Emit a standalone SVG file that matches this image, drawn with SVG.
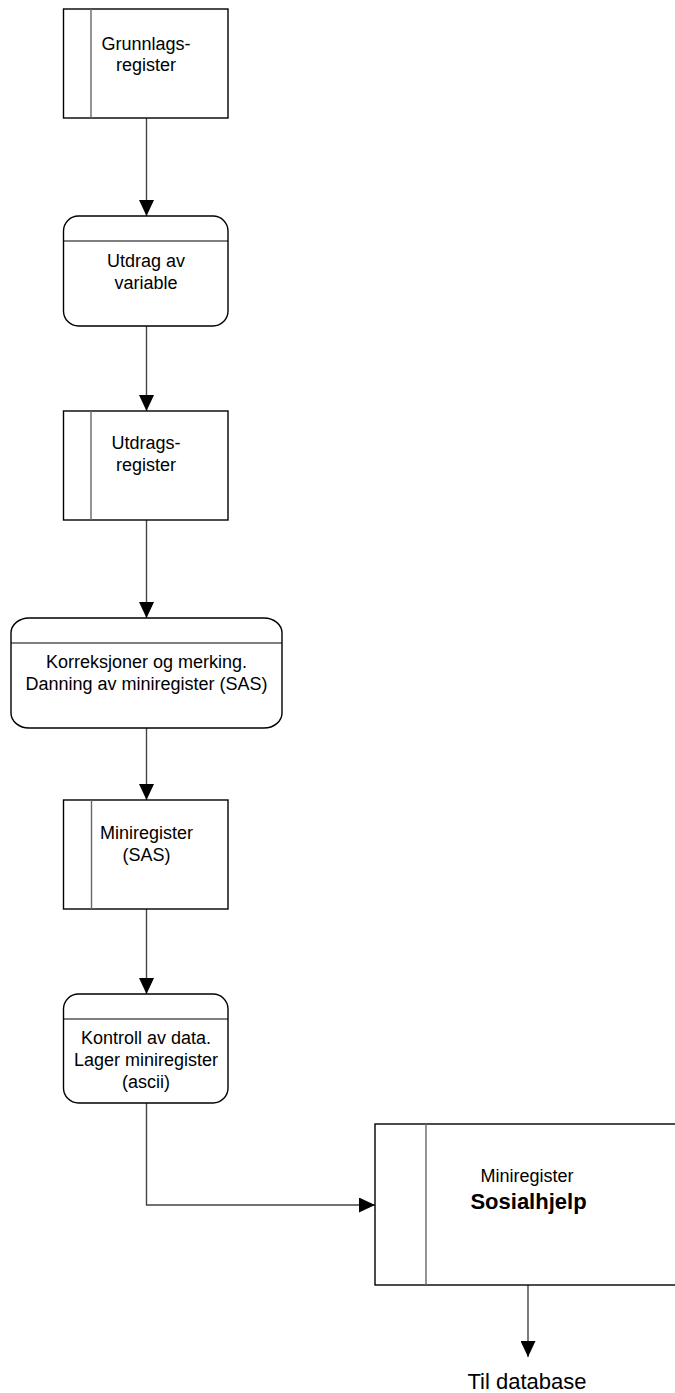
<svg xmlns="http://www.w3.org/2000/svg" width="675" height="1393" viewBox="0 0 675 1393">
<style>
.box{fill:#fff;stroke:#000;stroke-width:1.4}
.inner{stroke:#666;stroke-width:1.4;fill:none}
.div{stroke:#000;stroke-width:1.2;fill:none}
.conn{stroke:#444;stroke-width:1.4;fill:none}
.t{font-family:"Liberation Sans",Arial,sans-serif;font-size:18px;fill:#000;text-anchor:middle}
.big{font-size:22px}
.b{font-weight:bold}
</style>
<defs>
<marker id="arr" viewBox="0 0 16 15" refX="16" refY="7.5" markerWidth="16" markerHeight="15" markerUnits="userSpaceOnUse" orient="auto">
<path d="M0,0 L16,7.5 L0,15 Z" fill="#000"/>
</marker>
</defs>
<rect width="675" height="1393" fill="#fff"/>
<g id="connectors">
<line class="conn" x1="146.5" y1="118" x2="146.5" y2="216" marker-end="url(#arr)"/>
<line class="conn" x1="146.5" y1="326" x2="146.5" y2="411" marker-end="url(#arr)"/>
<line class="conn" x1="146.5" y1="520" x2="146.5" y2="618" marker-end="url(#arr)"/>
<line class="conn" x1="146.5" y1="728" x2="146.5" y2="800" marker-end="url(#arr)"/>
<line class="conn" x1="146.5" y1="909" x2="146.5" y2="994" marker-end="url(#arr)"/>
<polyline class="conn" points="146.5,1103 146.5,1205 375,1205" marker-end="url(#arr)"/>
<line class="conn" x1="528" y1="1285" x2="528" y2="1357" marker-end="url(#arr)"/>
</g>
<g id="grunnlagsregister">
<rect class="box" x="63.5" y="9" width="164.5" height="109"/>
<line class="inner" x1="91" y1="9" x2="91" y2="118"/>
<text class="t" x="146" y="50">Grunnlags-</text>
<text class="t" x="146" y="71">register</text>
</g>
<g id="utdrag-av-variable">
<rect class="box" x="63.5" y="216" width="164.5" height="110" rx="15" ry="15"/>
<line class="div" x1="63.5" y1="241" x2="228" y2="241"/>
<text class="t" x="146" y="267">Utdrag av</text>
<text class="t" x="146" y="289">variable</text>
</g>
<g id="utdragsregister">
<rect class="box" x="63.5" y="411" width="164.5" height="109"/>
<line class="inner" x1="91" y1="411" x2="91" y2="520"/>
<text class="t" x="146" y="449">Utdrags-</text>
<text class="t" x="146" y="471">register</text>
</g>
<g id="korreksjoner">
<rect class="box" x="11" y="618" width="271" height="110" rx="18" ry="15"/>
<line class="div" x1="11" y1="643" x2="282" y2="643"/>
<text class="t" x="146.5" y="668">Korreksjoner og merking.</text>
<text class="t" x="146.5" y="690">Danning av miniregister (SAS)</text>
</g>
<g id="miniregister-sas">
<rect class="box" x="63.5" y="800" width="164.5" height="109"/>
<line class="inner" x1="91.5" y1="800" x2="91.5" y2="909"/>
<text class="t" x="146.5" y="839">Miniregister</text>
<text class="t" x="146.5" y="861">(SAS)</text>
</g>
<g id="kontroll">
<rect class="box" x="63.5" y="994" width="164.5" height="109" rx="15" ry="15"/>
<line class="div" x1="63.5" y1="1019" x2="228" y2="1019"/>
<text class="t" x="146" y="1044">Kontroll av data.</text>
<text class="t" x="146" y="1066">Lager miniregister</text>
<text class="t" x="146" y="1088">(ascii)</text>
</g>
<g id="miniregister-sosialhjelp">
<rect class="box" x="375" y="1124" width="320" height="161"/>
<line class="inner" x1="426" y1="1124" x2="426" y2="1285"/>
<text class="t" x="527" y="1182">Miniregister</text>
<text class="t big b" x="528.5" y="1209">Sosialhjelp</text>
</g>
<g id="til-database">
<text class="t big" x="527" y="1389">Til database</text>
</g>
</svg>
